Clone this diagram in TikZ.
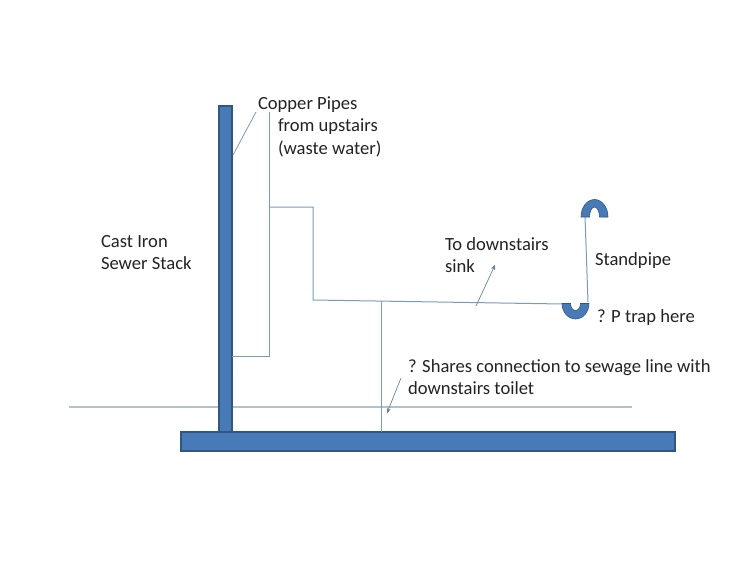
\documentclass[tikz,border=0pt]{standalone}
\usepackage{fontspec}
\setmainfont{Carlito}
\usetikzlibrary{arrows}
\definecolor{pipeblue}{RGB}{72,122,184}
\definecolor{pipeedge}{RGB}{50,86,130}
\definecolor{linkblue}{RGB}{120,155,190}
\definecolor{groundgray}{RGB}{176,192,204}
\definecolor{textgray}{RGB}{35,35,35}
\begin{document}
\begin{tikzpicture}[x=1pt,y=-1pt,>=stealth',semithick]
  \tikzstyle{every node}=[inner sep=0pt,outer sep=0pt,text=textgray,font=\fontsize{18.6}{22.5}\selectfont]
  \tikzstyle{label}=[anchor=west,align=left]
  \tikzstyle{iron}=[fill=pipeblue,draw=pipeedge,line width=1.4pt]
  \tikzstyle{ubend}=[fill=pipeblue,draw=pipeedge,line width=0.6pt]
  \tikzstyle{copper}=[draw=linkblue,line width=1pt]

  \useasboundingbox (0,0) rectangle (750,563);

  % ground line goes behind the stack
  \coordinate (G1) at (69,407);
  \coordinate (G2) at (632,407);
  \draw[draw=groundgray,line width=1.2pt] (G1) -- (G2);

  \node[iron,minimum width=13pt,minimum height=326pt] (stack) at (225.5,269) {};
  \node[iron,minimum width=494pt,minimum height=19pt] (base) at (428,441.5) {};

  \coordinate (P1) at (269,112);
  \coordinate (P2) at (269,356);
  \coordinate (P3) at (232,356);
  \coordinate (B1) at (269,207);
  \coordinate (B2) at (313,207);
  \coordinate (B3) at (313,300);
  \coordinate (B4) at (563,304);
  \coordinate (D1) at (381,301);
  \coordinate (D2) at (381,432);
  \coordinate (S1) at (585,216);
  \coordinate (S2) at (588,302);
  \draw[copper] (P1) -- (P2) -- (P3);
  \draw[copper] (B1) -- (B2) -- (B3) -- (B4);
  \draw[copper] (D1) -- (D2);
  \draw[copper] (S1) -- (S2);

  % the two bends
  \draw[ubend] (581,217) arc[start angle=180,end angle=360,x radius=13.5,y radius=17.5]
     -- (599.5,217) arc[start angle=360,end angle=180,x radius=5,y radius=10] -- cycle;
  \draw[ubend] (562,303.5) arc[start angle=180,end angle=0,x radius=13.5,y radius=15.5]
     -- (580.5,303.5) arc[start angle=0,end angle=180,x radius=5,y radius=7] -- cycle;

  \node[label] (copper) at (258,105) {Copper Pipes};
  \node[label] (upstairs) at (278,138) {from upstairs\\(waste water)};
  \node[label] (cast) at (101,252.5) {Cast Iron\\Sewer Stack};
  \node[label] (sink) at (445,255) {To downstairs\\sink};
  \node[label] (standpipe) at (595,261) {Standpipe};
  \node[label] (ptrap) at (597,318) {? P trap here};
  \node[label] (shares) at (408,377) {? Shares connection to sewage line with\\downstairs toilet};

  \coordinate (L1) at (256,112);
  \coordinate (L2) at (233,155);
  \draw[draw=linkblue,line width=0.8pt] (L1) -- (L2);
  \coordinate (A1) at (401,378);
  \coordinate (A2) at (387,413);
  \draw[->,draw=linkblue!85!black,line width=0.7pt] (A1) -- (A2);
  \coordinate (A3) at (476,306);
  \coordinate (A4) at (495,265);
  \draw[->,draw=linkblue!85!black,line width=0.7pt] (A3) -- (A4);
\end{tikzpicture}
\end{document}
